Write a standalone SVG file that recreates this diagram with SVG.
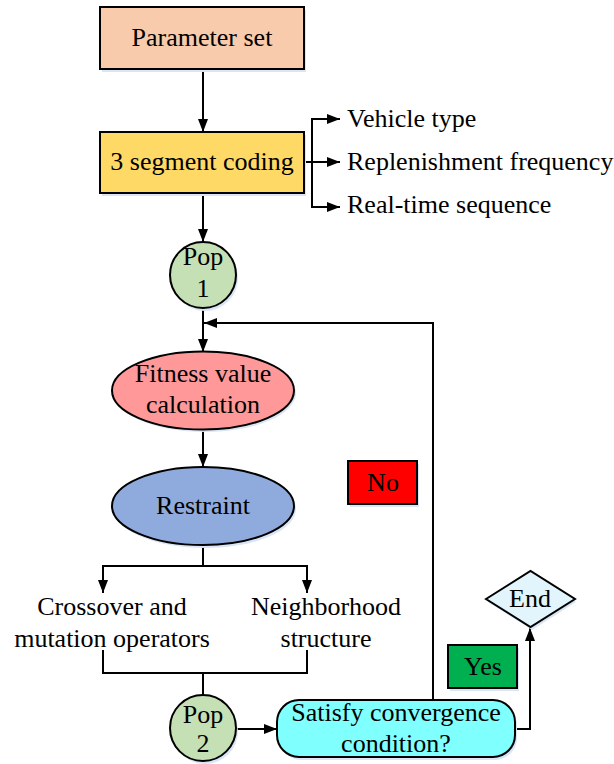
<svg xmlns="http://www.w3.org/2000/svg" width="614" height="764" viewBox="0 0 614 764">
  <style>
    text { font-family: "Liberation Serif", "Times New Roman", serif; font-size: 26px; fill: #000; text-anchor: middle; }
    .shape { stroke: #000; stroke-width: 2; }
    .shadow { fill: #dae6f5; stroke: none; }
    .wire { fill: none; stroke: #000; stroke-width: 2; }
  </style>
  <defs>
    <marker id="arrow" markerUnits="userSpaceOnUse" markerWidth="14" markerHeight="10" refX="13" refY="5" orient="auto">
      <path d="M0,0 L13,5 L0,10 z" fill="#000"/>
    </marker>
  </defs>

  <rect width="614" height="764" fill="#fff"/>

  <!-- connectors -->
  <g id="connectors">
    <line class="wire" x1="203" y1="69" x2="203" y2="132" marker-end="url(#arrow)"/>
    <line class="wire" x1="304" y1="162" x2="312" y2="162"/>
    <path class="wire" d="M312,119 L312,207"/>
    <line class="wire" x1="311" y1="119" x2="340" y2="119" marker-end="url(#arrow)"/>
    <line class="wire" x1="311" y1="162" x2="340" y2="162" marker-end="url(#arrow)"/>
    <line class="wire" x1="311" y1="207" x2="340" y2="207" marker-end="url(#arrow)"/>
    <line class="wire" x1="203" y1="193" x2="203" y2="242" marker-end="url(#arrow)"/>
    <line class="wire" x1="203" y1="307" x2="203" y2="352" marker-end="url(#arrow)"/>
    <path class="wire" d="M433,700 L433,323 L204,323" marker-end="url(#arrow)"/>
    <line class="wire" x1="203" y1="429" x2="203" y2="467" marker-end="url(#arrow)"/>
    <path class="wire" d="M203,545 L203,566"/>
    <path class="wire" d="M103,593 L103,566 L307,566 L307,593"/>
    <line class="wire" x1="103" y1="566" x2="103" y2="593" marker-end="url(#arrow)"/>
    <line class="wire" x1="307" y1="566" x2="307" y2="593" marker-end="url(#arrow)"/>
    <path class="wire" d="M103,650 L103,673 L307,673 L307,650"/>
    <line class="wire" x1="203" y1="673" x2="203" y2="695"/>
    <line class="wire" x1="237" y1="729" x2="277" y2="729" marker-end="url(#arrow)"/>
    <path class="wire" d="M515,729 L530,729 L530,628" marker-end="url(#arrow)"/>
  </g>

  <g id="parameter-set">
    <rect class="shadow" x="102" y="10" width="204" height="62"/>
    <rect class="shape" x="100" y="7" width="204" height="62" fill="#f8cbad"/>
    <text x="202" y="46">Parameter set</text>
  </g>

  <g id="segment-coding">
    <rect class="shadow" x="102" y="135" width="204" height="61"/>
    <rect class="shape" x="100" y="132" width="204" height="61" fill="#ffd966"/>
    <text x="202" y="170">3 segment coding</text>
  </g>

  <g id="vehicle-type"><text x="347" y="127" text-anchor="start" style="text-anchor:start">Vehicle type</text></g>
  <g id="replenishment-frequency"><text x="347" y="170" style="text-anchor:start">Replenishment frequency</text></g>
  <g id="real-time-sequence"><text x="347" y="213" style="text-anchor:start">Real-time sequence</text></g>

  <g id="pop1">
    <circle class="shadow" cx="205" cy="278" r="33"/>
    <circle class="shape" cx="203" cy="275" r="33" fill="#c5e0b4"/>
    <text x="203" y="265">Pop</text>
    <text x="203" y="297">1</text>
  </g>

  <g id="fitness">
    <ellipse class="shadow" cx="205" cy="393" rx="91" ry="39"/>
    <ellipse class="shape" cx="203" cy="390.5" rx="91" ry="39" fill="#ff9999"/>
    <text x="203" y="382">Fitness value</text>
    <text x="203" y="413">calculation</text>
  </g>

  <g id="restraint">
    <ellipse class="shadow" cx="205" cy="509" rx="91" ry="39"/>
    <ellipse class="shape" cx="203" cy="506" rx="91" ry="39" fill="#8faadc"/>
    <text x="203" y="514">Restraint</text>
  </g>

  <g id="crossover">
    <text x="112" y="615">Crossover and</text>
    <text x="112" y="647">mutation operators</text>
  </g>

  <g id="neighborhood">
    <text x="326" y="615">Neighborhood</text>
    <text x="326" y="647">structure</text>
  </g>

  <g id="pop2">
    <circle class="shadow" cx="205" cy="731" r="33"/>
    <circle class="shape" cx="203" cy="728" r="33" fill="#c5e0b4"/>
    <text x="203" y="723">Pop</text>
    <text x="203" y="752">2</text>
  </g>

  <g id="convergence">
    <rect class="shadow" x="279" y="703" width="238" height="57" rx="22"/>
    <rect class="shape" x="277" y="700" width="238" height="57" rx="22" fill="#80ffff"/>
    <text x="396" y="721">Satisfy convergence</text>
    <text x="396" y="752">condition?</text>
  </g>

  <g id="end">
    <polygon class="shadow" points="488,602 532,574 576,602 532,630"/>
    <polygon class="shape" points="486,599 530.5,571 575,599 530.5,627" fill="#e2f5fc"/>
    <text x="530" y="607">End</text>
  </g>

  <g id="yes">
    <rect class="shadow" x="450" y="648" width="69" height="43"/>
    <rect class="shape" x="448" y="645" width="69" height="43" fill="#00b050"/>
    <text x="483" y="675">Yes</text>
  </g>

  <g id="no">
    <rect class="shadow" x="350" y="464" width="69" height="43"/>
    <rect class="shape" x="348" y="461" width="69" height="43" fill="#ff0000"/>
    <text x="383" y="491">No</text>
  </g>
</svg>
